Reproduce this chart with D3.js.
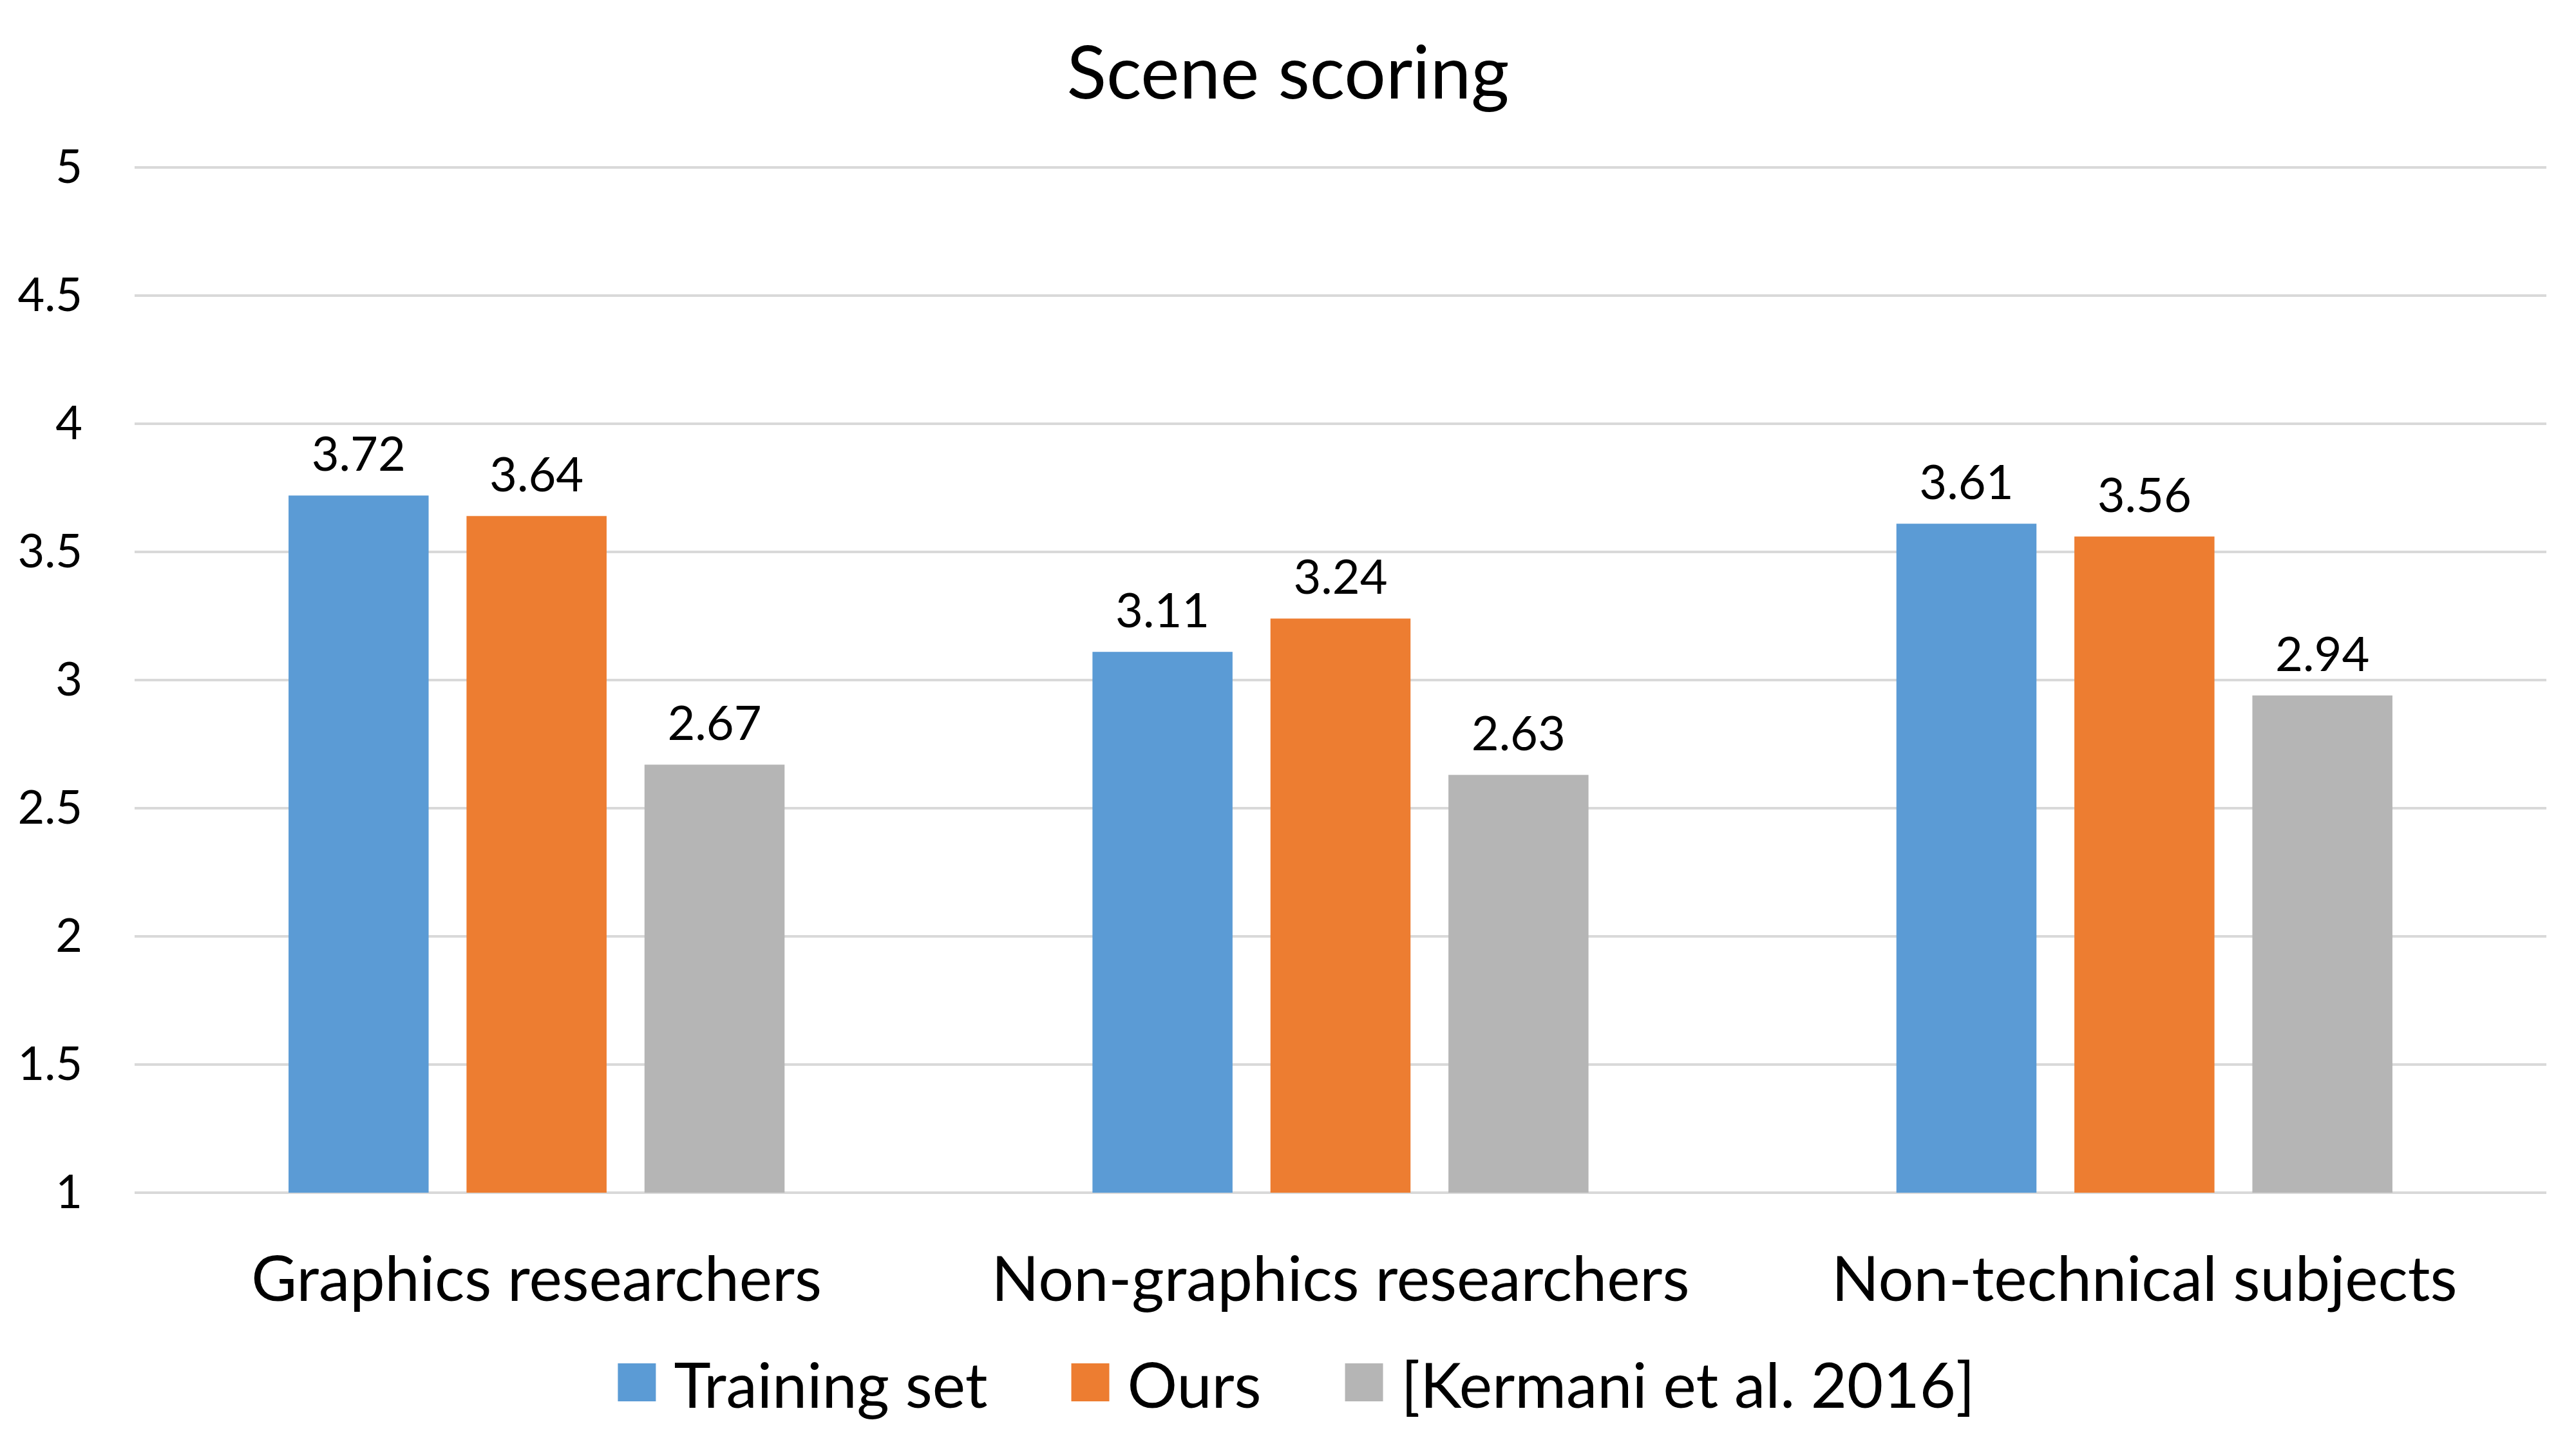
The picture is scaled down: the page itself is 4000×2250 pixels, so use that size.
<!DOCTYPE html>
<html>
<head>
<meta charset="utf-8">
<script src="https://cdn.jsdelivr.net/npm/d3@7"></script>
<style>
  body { margin: 0; background: #fff; }
  text { font-family: Lato, "Open Sans", sans-serif; fill: #000; }
</style>
</head>
<body>
<svg id="chart" width="4000" height="2250"></svg>
<script>
var groups = ['Graphics researchers', 'Non-graphics researchers', 'Non-technical subjects'];
var seriesNames = ['Training set', 'Ours', '[Kermani et al. 2016]'];
var trainingSet = [3.72, 3.11, 3.61];
var ours = [3.64, 3.24, 3.56];
var kermani = [2.67, 2.63, 2.94];
var yTicks = [1, 1.5, 2, 2.5, 3, 3.5, 4, 4.5, 5];
var colors = ['#5b9bd5', '#ed7d31', '#b5b5b5'];

var series = [trainingSet, ours, kermani];

var svg = d3.select('#chart');
var W = 4000, H = 2250;
var margin = {left: 209, right: 46, top: 260, bottom: 398};

var x0 = d3.scaleBand()
  .domain(groups)
  .range([margin.left, W - margin.right])
  .padding(0);

// bars take up ~62% of each category band
var groupW = x0.bandwidth() * 0.617;
var x1 = d3.scaleBand()
  .domain(d3.range(series.length))
  .range([0, groupW])
  .paddingInner(0.213)
  .paddingOuter(0);

var y = d3.scaleLinear()
  .domain([1, 5])
  .range([H - margin.bottom, margin.top]);

// gridlines
svg.append('g')
  .selectAll('line')
  .data(yTicks)
  .enter().append('line')
  .attr('x1', margin.left)
  .attr('x2', W - margin.right)
  .attr('y1', function(d) { return y(d); })
  .attr('y2', function(d) { return y(d); })
  .attr('stroke', '#d9d9d9')
  .attr('stroke-width', 4);

// y axis labels
var yAxis = d3.axisLeft(y)
  .tickValues(yTicks)
  .tickSize(0)
  .tickPadding(0)
  .tickFormat(d3.format('~g'));

svg.append('g')
  .attr('transform', 'translate(128,0)')
  .call(yAxis)
  .call(function(g) { g.select('.domain').remove(); })
  .selectAll('text')
  .attr('font-size', 72)
  .attr('font-family', 'Lato, sans-serif')
  .attr('fill', '#000');

// bars
var barData = [];
groups.forEach(function(g, gi) {
  series.forEach(function(s, si) {
    barData.push({group: g, si: si, value: s[gi]});
  });
});

var barX = function(d) { return x0(d.group) + (x0.bandwidth() - groupW) / 2 + x1(d.si); };

var barG = svg.append('g');
barG.selectAll('rect')
  .data(barData)
  .enter().append('rect')
  .attr('x', barX)
  .attr('width', x1.bandwidth())
  .attr('y', function(d) { return y(d.value); })
  .attr('height', function(d) { return y(1) - y(d.value); })
  .attr('fill', function(d) { return colors[d.si]; });

// value labels
barG.selectAll('text')
  .data(barData)
  .enter().append('text')
  .attr('x', function(d) { return barX(d) + x1.bandwidth() / 2; })
  .attr('y', function(d) { return y(d.value) - 38; })
  .attr('text-anchor', 'middle')
  .attr('font-size', 74)
  .text(function(d) { return d.value.toFixed(2); });

// category axis
var xAxis = d3.axisBottom(x0).tickSize(0).tickPadding(0);
svg.append('g')
  .attr('transform', 'translate(0,2020)')
  .call(xAxis)
  .call(function(g) { g.select('.domain').remove(); })
  .selectAll('text')
  .attr('y', 0)
  .attr('dy', 0)
  .attr('font-size', 97)
  .attr('font-family', 'Lato, sans-serif')
  .attr('fill', '#000');

// title
svg.append('text')
  .attr('x', 2000)
  .attr('y', 153)
  .attr('text-anchor', 'middle')
  .attr('font-size', 114)
  .text('Scene scoring');

// legend
var legend = svg.append('g');
var items = legend.selectAll('g')
  .data(seriesNames)
  .enter().append('g');
items.append('rect')
  .attr('width', 59)
  .attr('height', 59)
  .attr('y', 2117)
  .attr('fill', function(d, i) { return colors[i]; });
items.append('text')
  .attr('x', 87)
  .attr('y', 2186)
  .attr('font-size', 97)
  .text(function(d) { return d; });

var pos = 0, offsets = [];
items.each(function() {
  offsets.push(pos);
  pos += 87 + this.querySelector('text').getComputedTextLength() + 130;
});
var totalW = pos - 130;
var startX = 2013 - totalW / 2;
items.attr('transform', function(d, i) { return 'translate(' + (startX + offsets[i]) + ',0)'; });
</script>
</body>
</html>
